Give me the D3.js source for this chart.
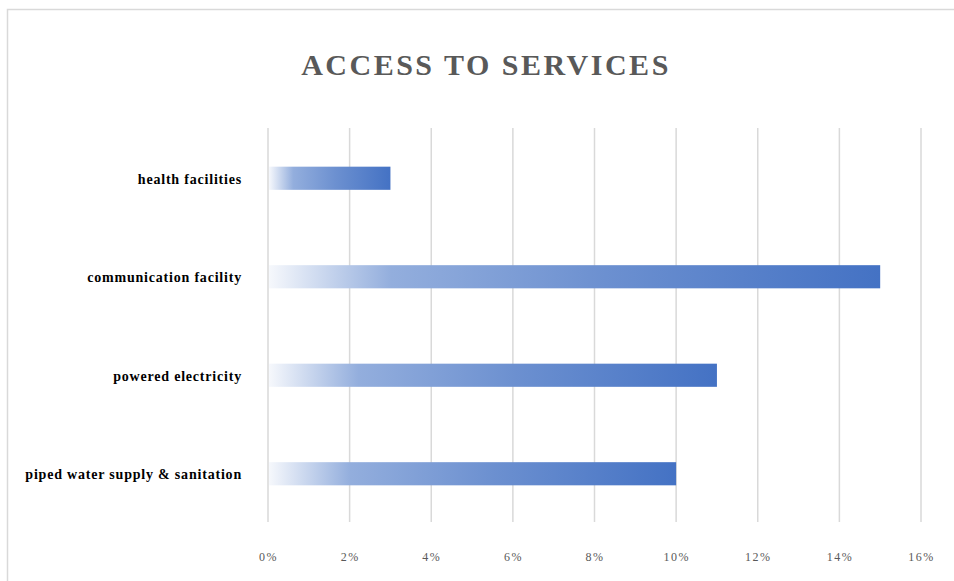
<!DOCTYPE html>
<html>
<head>
<meta charset="utf-8">
<script src="https://cdn.jsdelivr.net/npm/d3@7"></script>
<style>
  body { margin: 0; background: #fff; }
  svg { display: block; }
</style>
</head>
<body>
<svg id="chart" width="954" height="581"></svg>
<script>
// data
var categories = ["health facilities", "communication facility", "powered electricity", "piped water supply & sanitation"];
var values = [0.03, 0.15, 0.11, 0.10];
var ticks = [0, 0.02, 0.04, 0.06, 0.08, 0.10, 0.12, 0.14, 0.16];

var svg = d3.select("#chart");
var margin = { top: 128, right: 33, bottom: 59, left: 268 };
var width = 954 - margin.left - margin.right,
    height = 581 - margin.top - margin.bottom;

// chart frame
svg.append("rect")
  .attr("x", 7.5).attr("y", 9.5)
  .attr("width", 960).attr("height", 580)
  .attr("fill", "none")
  .attr("stroke", "#d9d9d9")
  .attr("stroke-width", 1.5);

svg.append("text")
  .attr("x", 486)
  .attr("y", 75)
  .attr("text-anchor", "middle")
  .style("font-family", "'Liberation Serif', 'Times New Roman', serif")
  .style("font-weight", "bold")
  .style("font-size", "30px")
  .style("letter-spacing", "2.5px")
  .style("fill", "#595959")
  .text("ACCESS TO SERVICES");

var defs = svg.append("defs");
var grad = defs.append("linearGradient")
  .attr("id", "barGrad")
  .attr("x1", "0%").attr("x2", "100%")
  .attr("y1", "0%").attr("y2", "0%");
grad.append("stop").attr("offset", "0%").attr("stop-color", "#f6f8fc");
grad.append("stop").attr("offset", "20%").attr("stop-color", "#93aedd");
grad.append("stop").attr("offset", "55%").attr("stop-color", "#6c90d0");
grad.append("stop").attr("offset", "100%").attr("stop-color", "#4472c4");

var g = svg.append("g")
  .attr("transform", "translate(" + margin.left + "," + margin.top + ")");

var x = d3.scaleLinear().domain([0, 0.16]).range([0, width]);
var y = d3.scaleBand().domain(categories).range([0, height]).paddingInner(0.765).paddingOuter(0.3825);

// gridlines
g.selectAll(".grid")
  .data(ticks)
  .join("line")
  .attr("class", "grid")
  .attr("x1", function(d) { return x(d); })
  .attr("x2", function(d) { return x(d); })
  .attr("y1", 0)
  .attr("y2", height)
  .attr("stroke", "#d9d9d9")
  .attr("stroke-width", 1.5);

// bars
g.selectAll(".bar")
  .data(values)
  .join("rect")
  .attr("class", "bar")
  .attr("x", x(0) + 1)
  .attr("y", function(d, i) { return y(categories[i]) + 1; })
  .attr("width", function(d) { return x(d) - x(0) - 1; })
  .attr("height", y.bandwidth())
  .attr("fill", "url(#barGrad)");

// x axis
var xAxis = d3.axisBottom(x)
  .tickValues(ticks)
  .tickFormat(d3.format(".0%"))
  .tickSize(0)
  .tickPadding(30);
var xg = g.append("g")
  .attr("transform", "translate(0," + height + ")")
  .call(xAxis);
xg.select(".domain").remove();
xg.selectAll("text")
  .style("font-family", "'Liberation Serif', 'Times New Roman', serif")
  .style("font-size", "12px")
  .style("letter-spacing", "1.5px")
  .style("fill", "#595959");

// y axis
var yAxis = d3.axisLeft(y).tickSize(0).tickPadding(26);
var yg = g.append("g").call(yAxis);
yg.select(".domain").remove();
yg.selectAll("text")
  .attr("dy", "0.45em")
  .style("font-family", "'Liberation Serif', 'Times New Roman', serif")
  .style("font-weight", "bold")
  .style("font-size", "14px")
  .style("letter-spacing", "0.8px")
  .style("fill", "#000");
</script>
</body>
</html>
